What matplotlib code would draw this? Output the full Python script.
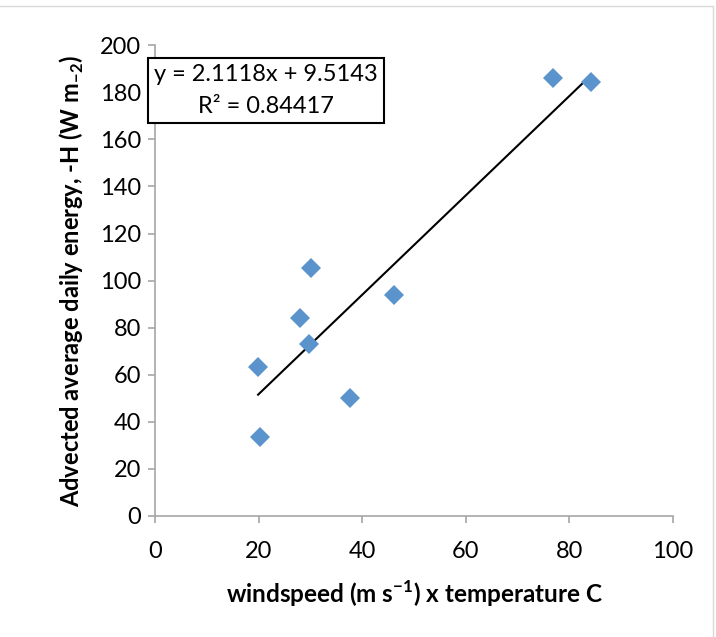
"""
Advected daily energy vs windspeed x temperature, scatter with linear trend.
"""

import matplotlib
matplotlib.use("Agg")
import matplotlib.pyplot as plt
from matplotlib.patches import Rectangle

plt.rcParams['font.family'] = ['Lato', 'DejaVu Sans']

# puntos
viento_temp = [19.9, 20.3, 28.0, 29.7, 30.1, 37.6, 46.1, 76.8, 84.2]
energia = [63.5, 33.5, 84.0, 73.0, 105.5, 50.0, 94.0, 186.0, 184.5]

# recta de tendencia (ecuacion de la etiqueta)
pendiente = 2.1118
ordenada = 9.5143
r2 = 0.84417

xticks = [0, 20, 40, 60, 80, 100]
yticks = [0, 20, 40, 60, 80, 100, 120, 140, 160, 180, 200]

gris = "#A6A6A6"

fig = plt.figure(figsize=(7.16, 6.37), dpi=100)
ax = fig.add_axes([0.2165, 0.19, 0.7235, 0.739])

x_lin = [min(viento_temp), max(viento_temp)]
y_lin = [pendiente * v + ordenada for v in x_lin]
ax.plot(x_lin, y_lin, color="black", linewidth=1.5, zorder=2)
ax.plot(viento_temp, energia, linestyle="none", marker="D", markersize=10.5,
        color="#5B93CC", markeredgewidth=0, zorder=3)

ax.set_xlim(0, 100)
ax.set_ylim(0, 200)
ax.set_xticks(xticks)
ax.set_yticks(yticks)

for lado in ["top", "right"]:
    ax.spines[lado].set_visible(False)
for lado in ["left", "bottom"]:
    ax.spines[lado].set_color(gris)
    ax.spines[lado].set_linewidth(1.2)
ax.tick_params(direction="out", length=5, width=1.2, color=gris,
               labelsize=17, labelcolor="black", pad=5)
ax.tick_params(axis="x", pad=13)

ax.set_xlabel(r"windspeed (m s$^{\mathregular{-1}}$) x temperature C",
              fontsize=17.5, fontweight="bold", labelpad=12)
ax.set_ylabel(r"Advected average daily energy, -H (W m$_{\mathregular{-2}}$)",
              fontsize=17, fontweight="bold", labelpad=10)

ax.text(0.214, 0.904, f"y = {pendiente}x + {ordenada}\nR² = {r2}",
        transform=ax.transAxes, ha="center", va="center", fontsize=17,
        linespacing=1.6,
        bbox=dict(boxstyle="square,pad=0.26", facecolor="white",
                  edgecolor="black", linewidth=1.5), zorder=4)

# marco exterior tenue
fig.patches.append(Rectangle((-0.01, -0.05), 1.006, 1.04, transform=fig.transFigure,
                             fill=False, edgecolor="#D9D9D9", linewidth=1))

fig.savefig("out.png", dpi=100)
